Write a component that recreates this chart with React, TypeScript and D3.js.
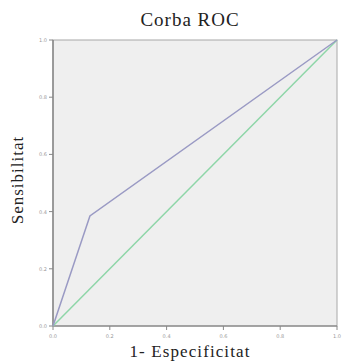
import React from "react";
import * as d3 from "d3";

const rocX = [0, 0.13, 1];
const rocY = [0, 0.385, 1];
const refX = [0, 1];
const refY = [0, 1];
const ticks = [0, 0.2, 0.4, 0.6, 0.8, 1.0];

export default function App() {
  const W = 345, H = 364;
  const m = { left: 53, right: 8, top: 40, bottom: 38 };
  const x = d3.scaleLinear().domain([0, 1]).range([m.left, W - m.right]);
  const y = d3.scaleLinear().domain([0, 1]).range([H - m.bottom, m.top]);
  const line = d3.line<[number, number]>().x(d => x(d[0])).y(d => y(d[1]));
  const roc = line(rocX.map((v, i) => [v, rocY[i]] as [number, number]));
  const ref = line(refX.map((v, i) => [v, refY[i]] as [number, number]));
  const fmt = d3.format(".1f");
  const font = "'Liberation Serif', 'DejaVu Serif', serif";
  return (
    <svg width={W} height={H} style={{ position: "absolute", left: 0, top: 0, background: "#fff" }}>
      <text x={190} y={25.5} textAnchor="middle" fontFamily={font} fontSize={19} letterSpacing={1} fill="#222">Corba ROC</text>
      <rect x={x(0)} y={y(1)} width={x(1) - x(0)} height={y(0) - y(1)} fill="#efefef" stroke="#a8a8a8" strokeWidth={1} />
      <line x1={x(0)} x2={x(0)} y1={y(0)} y2={y(1)} stroke="#777" strokeWidth={1.2} />
      <line x1={x(0)} x2={x(1)} y1={y(0)} y2={y(0)} stroke="#777" strokeWidth={1.2} />
      {ticks.map(t => (
        <g key={"y" + t}>
          <line x1={x(0) - 4} x2={x(0)} y1={y(t)} y2={y(t)} stroke="#888" />
          <text x={x(0) - 6} y={y(t) + 2} textAnchor="end" fontFamily="'DejaVu Sans', sans-serif" fontSize={5} fill="#999">{fmt(t)}</text>
        </g>
      ))}
      {ticks.map(t => (
        <g key={"x" + t}>
          <line x1={x(t)} x2={x(t)} y1={y(0)} y2={y(0) + 4} stroke="#888" />
          <text x={x(t)} y={y(0) + 12} textAnchor="middle" fontFamily="'DejaVu Sans', sans-serif" fontSize={5} fill="#999">{fmt(t)}</text>
        </g>
      ))}
      <path d={ref ?? ""} fill="none" stroke="#8ed6a8" strokeWidth={1.5} />
      <path d={roc ?? ""} fill="none" stroke="#9a9ac4" strokeWidth={1.5} />
      <text x={190} y={357} textAnchor="middle" fontFamily={font} fontSize={17} letterSpacing={1.1} fill="#222">1- Especificitat</text>
      <text transform={`translate(22.5,180) rotate(-90)`} textAnchor="middle" fontFamily={font} fontSize={17} letterSpacing={1} fill="#222">Sensibilitat</text>
    </svg>
  );
}
